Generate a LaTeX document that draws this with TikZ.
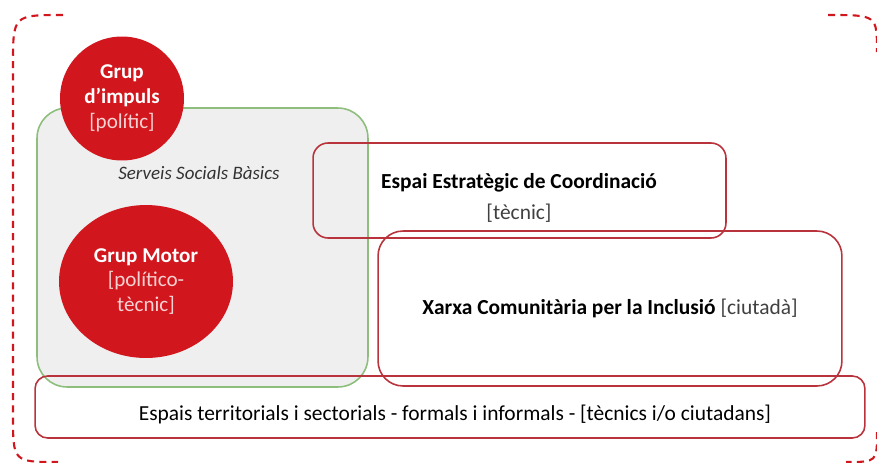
\documentclass[tikz,border=0pt]{standalone}
\usepackage{fontspec}
\setmainfont{Carlito}
\usetikzlibrary{shapes.geometric}

\definecolor{vermell}{HTML}{D2161E}
\definecolor{vora}{HTML}{B8333B}
\definecolor{verd}{HTML}{8DBE7C}
\definecolor{gris}{HTML}{EFEFEF}
\definecolor{rosa}{HTML}{F6D2D2}

\begin{document}
\begin{tikzpicture}[x=0.02cm, y=-0.02cm, font=\fontsize{12.2}{14.4}\selectfont]

\tikzstyle{cercle} = [circle, fill=vermell, text=white, align=center, inner sep=0pt, font=\fontsize{12}{14.2}\selectfont\bfseries]
\tikzstyle{espai} = [rectangle, draw=vora, line width=0.9pt, align=center]
\tikzstyle{marc} = [draw=vermell, line width=1.2pt, dash pattern=on 4pt off 3pt]

\useasboundingbox (0,0) rectangle (877,463);

% dashed frame
\draw[marc] (63,15) .. controls (13,15) .. (13,65) -- (13,415) .. controls (13,462) .. (58,462);
\draw[marc] (828,15) .. controls (877,15) .. (877,52);
\draw[marc] (877,432) .. controls (877,462) .. (846,462);

% Serveis Socials Basics
\node[rectangle, fill=gris, draw=verd, line width=0.9pt, rounded corners=0.6cm,
      minimum width=6.62cm, minimum height=5.58cm] (ssb) at (202.5,247.5) {};
\node[font=\fontsize{10.8}{13}\selectfont\itshape, text=black!80] (ssbtext) at (199,173) {Serveis Socials Bàsics};

% circles
\node[cercle, minimum size=2.48cm] (impuls) at (122,98.5)
      {Grup\\d’impuls\\{\mdseries\color{rosa}[polític]}};
\node[cercle, ellipse, minimum width=3.48cm, minimum height=3.06cm] (motor) at (146,281.5)
      {Grup Motor\\{\mdseries\color{rosa}[político-}\\{\mdseries\color{rosa}tècnic]}};

% boxes
\node[espai, rounded corners=0.3cm, minimum width=8.26cm, minimum height=1.9cm] (coord) at (519.5,190.5) {};
\node[align=center] (coordtext) at (519,198)
      {\textbf{Espai Estratègic de Coordinació}\\[3pt]{\color{black!75}[tècnic]}};
\node[espai, rounded corners=0.5cm, minimum width=9.28cm, minimum height=3.1cm] (xarxa) at (610,308.5)
      {\textbf{Xarxa Comunitària per la Inclusió} {\color{black!75}[ciutadà]}};
\node[espai, rounded corners=0.25cm, minimum width=16.6cm, minimum height=1.24cm] (terr) at (450,407) {};
\node (terrtext) at (455,414)
      {Espais territorials i sectorials - formals i informals - [tècnics i/o ciutadans]};

\end{tikzpicture}
\end{document}
